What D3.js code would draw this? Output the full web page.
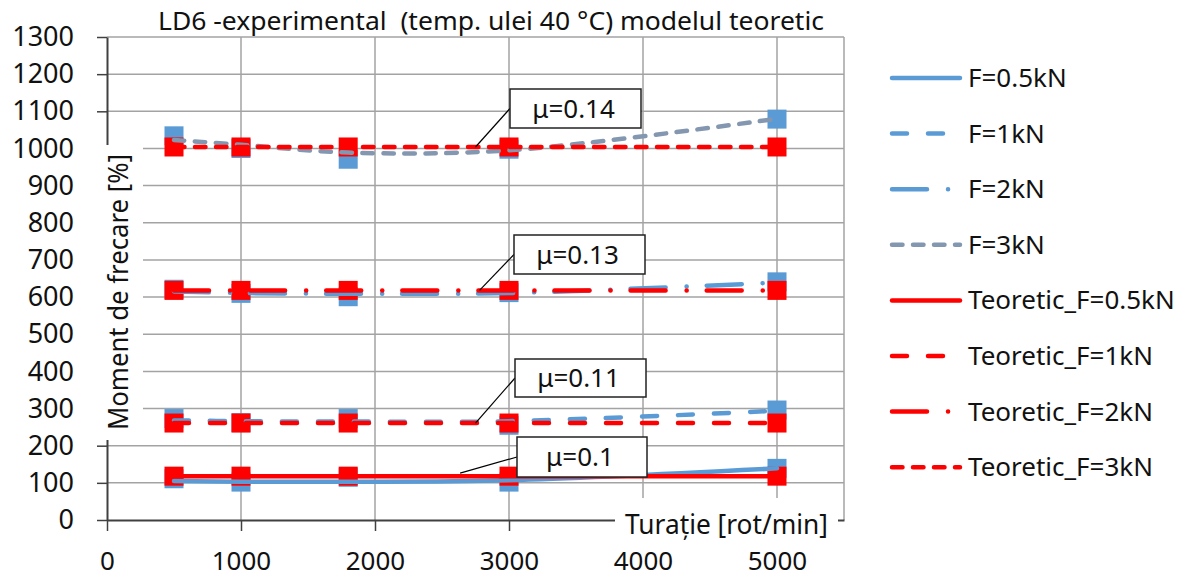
<!DOCTYPE html>
<html>
<head>
<meta charset="utf-8">
<script src="https://cdn.jsdelivr.net/npm/d3@7"></script>
<style>
  html, body { margin: 0; padding: 0; background: #fff; }
  svg text { font-family: "Noto Sans", "Open Sans", sans-serif; fill: #111; }
</style>
</head>
<body>
<svg id="chart" width="1198" height="579"></svg>
<script>
// Rotational speeds at which the friction moment was measured [rot/min]
const speeds = [500, 1000, 1800, 3000, 5000];

// Measured friction moment [%] for each load
const measured05 = [111, 102, 115, 102, 139];
const measured1  = [273, 262, 273, 255, 296];
const measured2  = [621, 610, 601, 612, 641];
const measured3  = [1034, 1000, 971, 998, 1079];

// Smoothed experimental curves at the same speeds
const trend05 = [105, 103, 103, 107, 139];
const trend1  = [268, 266, 265, 266, 294];
const trend2  = [615, 611, 609, 611, 639];
const trend3  = [1023, 1010, 989, 995, 1080];

// Theoretical model values
const theory05 = [118, 118, 118, 118, 118];
const theory1  = [261, 261, 261, 261, 261];
const theory2  = [618, 618, 618, 618, 618];
const theory3  = [1004, 1004, 1004, 1004, 1004];

const expNames    = ["F=0.5kN", "F=1kN", "F=2kN", "F=3kN"];
const theoryNames = ["Teoretic_F=0.5kN", "Teoretic_F=1kN", "Teoretic_F=2kN", "Teoretic_F=3kN"];

// Friction coefficients quoted for each load level
const muLabels = ["μ=0.1", "μ=0.11", "μ=0.13", "μ=0.14"];
const muSpeeds = [2635, 2750, 2780, 2750];

const yTicks = [0, 100, 200, 300, 400, 500, 600, 700, 800, 900, 1000, 1100, 1200, 1300];
const xTicks = [0, 1000, 2000, 3000, 4000, 5000];

const titleText = "LD6 -experimental  (temp. ulei 40 °C) modelul teoretic";
const yTitle = "Moment de frecare [%]";
const xTitle = "Turație [rot/min]";

// ---- styling ----
const BLUE = "#5b9bd5", GREY = "#8497b0", RED = "#ff0000";
const LW = 4.5;
const dashes = [null, "15,21", "35,21,0.1,20", "10.5,10.5"];
const expColors = [BLUE, BLUE, BLUE, GREY];

const svg = d3.select("#chart");

const x = d3.scaleLinear().domain([0, 5500]).range([107, 844]);
const y = d3.scaleLinear().domain([0, 1300]).range([520, 37]);

// gridlines
const grid = svg.append("g");
grid.selectAll("line.h").data(yTicks.slice(1)).join("line")
  .attr("x1", x(0)).attr("x2", x(5500))
  .attr("y1", d => y(d)).attr("y2", d => y(d))
  .attr("stroke", "#a3a3a3").attr("stroke-width", 1.5);
grid.selectAll("line.v").data([1000, 2000, 3000, 4000, 5000, 5500]).join("line")
  .attr("x1", d => x(d)).attr("x2", d => x(d))
  .attr("y1", y(0)).attr("y2", y(1300))
  .attr("stroke", "#a3a3a3").attr("stroke-width", 1.5);

// axes
const fmt = d3.format("d");
const yAxis = svg.append("g").attr("transform", `translate(${x(0)},0)`)
  .call(d3.axisLeft(y).tickValues(yTicks).tickFormat(fmt).tickSize(10).tickSizeOuter(0).tickPadding(23));
const xAxis = svg.append("g").attr("transform", `translate(0,${y(0)})`)
  .call(d3.axisBottom(x).tickValues(xTicks).tickFormat(fmt).tickSize(11).tickSizeOuter(0).tickPadding(22));
[yAxis, xAxis].forEach(a => {
  a.select(".domain").attr("stroke", "#404040").attr("stroke-width", 2);
  a.selectAll(".tick line").attr("stroke", "#404040").attr("stroke-width", 1.5);
  a.selectAll(".tick text").attr("font-size", 27).attr("font-family", "Noto Sans").attr("fill", "#111");
});
xAxis.selectAll(".tick text").attr("font-size", 26).attr("dy", "0.66em");

// markers: experimental first, theoretical on top
const MS = 19;
const expMeasured = [measured05, measured1, measured2, measured3];
const theories = [theory05, theory1, theory2, theory3];
const trends = [trend05, trend1, trend2, trend3];

const markerLayer = svg.append("g");
expMeasured.forEach(vals => {
  markerLayer.append("g").selectAll("rect").data(vals).join("rect")
    .attr("x", (d, i) => x(speeds[i]) - MS / 2)
    .attr("y", d => y(d) - MS / 2)
    .attr("width", MS).attr("height", MS).attr("fill", BLUE);
});
theories.forEach(vals => {
  markerLayer.append("g").selectAll("rect").data(vals).join("rect")
    .attr("x", (d, i) => x(speeds[i]) - MS / 2)
    .attr("y", d => y(d) - MS / 2)
    .attr("width", MS).attr("height", MS).attr("fill", RED);
});

// lines
const smooth = d3.line().x((d, i) => x(speeds[i])).y(d => y(d)).curve(d3.curveCatmullRom.alpha(0.5));
const straight = d3.line().x((d, i) => x(speeds[i])).y(d => y(d));
const lineLayer = svg.append("g").attr("fill", "none").attr("stroke-linecap", "round").attr("stroke-width", LW);
trends.forEach((vals, k) => {
  lineLayer.append("path").attr("d", smooth(vals))
    .attr("stroke", expColors[k])
    .attr("stroke-dasharray", dashes[k]);
});
theories.forEach((vals, k) => {
  lineLayer.append("path").attr("d", straight(vals))
    .attr("stroke", RED)
    .attr("stroke-dasharray", dashes[k]);
});

// axis titles on white backgrounds
svg.append("rect").attr("x", 93).attr("y", 145).attr("width", 50).attr("height", 295).attr("fill", "#fff");
svg.append("text")
  .attr("transform", "translate(128,292) rotate(-90)")
  .attr("text-anchor", "middle").attr("font-size", 27)
  .attr("textLength", 276).attr("lengthAdjust", "spacingAndGlyphs")
  .text(yTitle);

svg.append("rect").attr("x", 615).attr("y", 498).attr("width", 223).attr("height", 44).attr("fill", "#fff");
svg.append("text")
  .attr("x", 625).attr("y", 534).attr("font-size", 27)
  .attr("textLength", 203).attr("lengthAdjust", "spacingAndGlyphs")
  .text(xTitle);

// chart title
svg.append("text")
  .attr("x", 491).attr("y", 30).attr("text-anchor", "middle").attr("font-size", 26)
  .style("white-space", "pre")
  .attr("textLength", 666).attr("lengthAdjust", "spacingAndGlyphs")
  .text(titleText);

// friction-coefficient callouts
const boxes = [
  { x: 517, y: 437, w: 130, h: 40 },
  { x: 515, y: 359, w: 131, h: 38 },
  { x: 514, y: 235, w: 131, h: 39 },
  { x: 510, y: 89,  w: 131, h: 39 }
];
const callouts = svg.append("g");
muLabels.forEach((lab, k) => {
  const b = boxes[k];
  const tx = x(muSpeeds[k]), ty = y(theories[k][0]) - (k === 0 ? 3 : 0);
  callouts.append("line")
    .attr("x1", b.x).attr("y1", b.y + b.h / 2).attr("x2", tx).attr("y2", ty)
    .attr("stroke", "#000").attr("stroke-width", 1.2);
  callouts.append("rect")
    .attr("x", b.x).attr("y", b.y).attr("width", b.w).attr("height", b.h)
    .attr("fill", "#fff").attr("stroke", "#222").attr("stroke-width", 1.5);
  callouts.append("text")
    .attr("x", b.x + b.w / 2 - 2).attr("y", b.y + b.h / 2 + 9)
    .attr("text-anchor", "middle").attr("font-size", 26)
    .text(lab);
});

// legend
const legendRows = expNames.map((n, k) => ({ name: n, color: expColors[k], dash: dashes[k] }))
  .concat(theoryNames.map((n, k) => ({ name: n, color: RED, dash: dashes[k] })));
const legend = svg.append("g");
legendRows.forEach((r, i) => {
  const ly = 78 + i * 55.6;
  legend.append("line")
    .attr("x1", 892).attr("x2", 960).attr("y1", ly).attr("y2", ly)
    .attr("stroke", r.color).attr("stroke-width", LW).attr("stroke-linecap", "round")
    .attr("stroke-dasharray", r.dash);
  legend.append("text")
    .attr("x", 968).attr("y", ly + 9).attr("font-size", 26)
    .text(r.name);
});
</script>
</body>
</html>
